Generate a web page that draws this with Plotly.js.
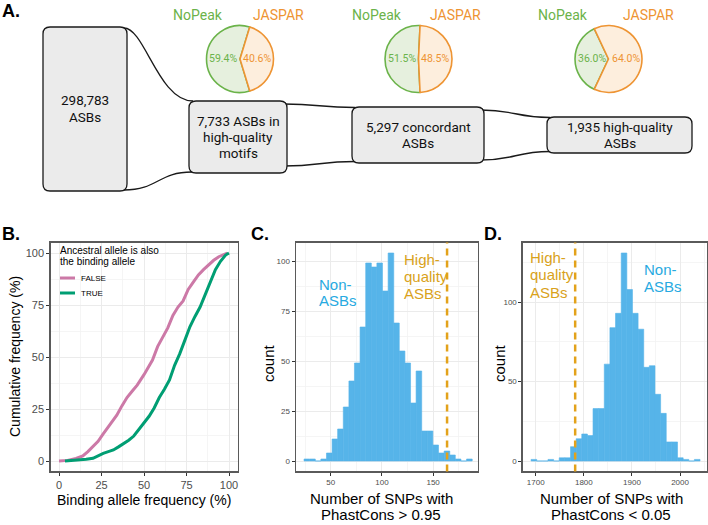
<!DOCTYPE html>
<html>
<head>
<meta charset="utf-8">
<script src="https://cdn.plot.ly/plotly-3.0.1.min.js"></script>
<style>html,body{margin:0;padding:0;background:#fff;}#chart{width:708px;height:525px;}</style>
</head>
<body>
<div id="chart"></div>
<script>
// ---------------- DATA ----------------
const pieLabels = ['NoPeak', 'JASPAR'];
const noPeakPct = [59.4, 51.5, 36.0];
const jasparPct = [40.6, 48.5, 64.0];

const stageLines = [
  ['298,783', 'ASBs'],
  ['7,733 ASBs in', 'high-quality', 'motifs'],
  ['5,297 concordant', 'ASBs'],
  ['1,935 high-quality', 'ASBs']
];

const legendTitle = ['Ancestral allele is also', 'the binding allele'];
const groupNames = ['FALSE', 'TRUE'];

const ecdfFalseX = [0, 5, 10, 14, 17, 20, 23, 26, 30, 34, 37, 40, 43, 46, 50, 53, 55, 58, 61, 64, 67, 70, 73, 76, 79, 82, 85, 88, 91, 94, 97, 99];
const ecdfFalseY = [0, 0.3, 1.2, 2.4, 4.5, 6.9, 9.5, 13, 17.3, 22, 26.5, 30.5, 33.5, 36.5, 41.5, 45.5, 48.5, 55, 59.5, 64, 70, 74, 77, 82.5, 86, 89.5, 92, 94.5, 96.5, 98.2, 99.3, 100];
const ecdfTrueX = [3.5, 8, 12, 16, 20, 23, 26, 29, 32, 35, 38, 41, 44, 47, 50, 53, 56, 59, 62, 65, 68, 71, 74, 77, 80, 83, 86, 89, 92, 95, 98, 100];
const ecdfTrueY = [0, 0.2, 0.5, 0.8, 1.3, 2.5, 3.7, 4.5, 5.3, 6.8, 8.3, 10, 12, 15, 18.5, 21.5, 25.5, 30.5, 34.5, 39, 46, 51.5, 58, 64.5, 69.5, 74, 80, 86, 92, 96, 99, 100];

const highBins = [26.7, 32.2, 37.6, 43.1, 48.6, 54.1, 59.5, 65.0, 70.5, 75.9, 81.4, 86.9, 92.3, 97.8, 103.3, 108.8, 114.2, 119.7, 125.2, 130.6, 136.1, 141.6, 147.0, 152.5, 158.0, 163.5, 168.9, 174.4, 179.9, 185.4];
const highCounts = [1, 1, 0, 1, 4, 11, 16, 27, 40, 49, 67, 99, 97, 99, 85, 104, 69, 55, 49, 29, 45, 15, 15, 8, 4, 5, 3, 1, 0, 1];
const highObserved = 163.6;

const lowBins = [1696.2, 1707.9, 1719.6, 1731.3, 1743.0, 1754.7, 1766.4, 1778.2, 1789.9, 1801.6, 1813.3, 1825.0, 1836.7, 1848.4, 1860.1, 1871.8, 1883.6, 1895.3, 1907.0, 1918.7, 1930.4, 1942.1, 1953.8, 1965.5, 1977.2, 1988.9, 2000.7, 2012.4, 2024.1, 2035.8];
const lowCounts = [1, 0, 0, 1, 0, 2, 2, 9, 14, 17, 16, 33, 33, 61, 84, 93, 131, 108, 93, 83, 59, 60, 42, 30, 12, 12, 2, 1, 0, 1];
const lowObserved = 1782;

// ---------------- GEOMETRY / STYLE ----------------
const W = 708, H = 525;
const px = x => x / W;
const py = y => 1 - y / H;

const PINK = '#CC79A7', GREEN = '#009E73', BAR = '#56B4E9';
const NONASB = '#27AAE1', GOLD = '#D9A21B', GOLDLINE = '#E3A21A';
const NP_LINE = '#6BB34A', NP_FILL = '#E6F0DE', JA_LINE = '#EE9433', JA_FILL = '#FDEEDD';
const SANS = 'Liberation Sans, Arial, sans-serif';
const ROBOTO = 'Roboto, sans-serif';

const boxes = [
  {x0: 43, x1: 127, y0: 27, y1: 191, lines: [100, 117]},
  {x0: 189, x1: 287, y0: 101, y1: 173, lines: [121, 137, 153]},
  {x0: 352, x1: 484, y0: 107, y1: 163, lines: [127, 143]},
  {x0: 547, x1: 692, y0: 117, y1: 153, lines: [127, 143]}
];
const pieCenters = [[240, 59], [418.5, 59], [608.5, 59]];
const pieR = 33.5;

function rr(x0, y0, x1, y1, r) {
  const P = (x, y) => px(x) + ',' + py(y);
  return 'M' + P(x0 + r, y0) + ' L' + P(x1 - r, y0) + ' Q' + P(x1, y0) + ' ' + P(x1, y0 + r) +
    ' L' + P(x1, y1 - r) + ' Q' + P(x1, y1) + ' ' + P(x1 - r, y1) +
    ' L' + P(x0 + r, y1) + ' Q' + P(x0, y1) + ' ' + P(x0, y1 - r) +
    ' L' + P(x0, y0 + r) + ' Q' + P(x0, y0) + ' ' + P(x0 + r, y0) + ' Z';
}
function curve(x0, y0, x1, y1, a, b) {
  const P = (x, y) => px(x) + ',' + py(y);
  const dx = x1 - x0;
  return 'M' + P(x0, y0) + ' C' + P(x0 + a * dx, y0) + ' ' + P(x1 - b * dx, y1) + ' ' + P(x1, y1);
}

const shapes = [];
const conn = [
  [124, 28, 193, 101, 0.3, 0.5],
  [124, 190, 192, 172, 0.5, 0.5],
  [284, 104, 355, 107.5, 0.5, 0.5],
  [284, 166, 355, 161.5, 0.5, 0.5],
  [481, 110, 550, 117.5, 0.5, 0.5],
  [481, 160, 550, 151.5, 0.5, 0.5]
];
conn.forEach(c => shapes.push({type: 'path', xref: 'paper', yref: 'paper', path: curve(...c), line: {color: '#1a1a1a', width: 1.3}}));
boxes.forEach(b => shapes.push({type: 'path', xref: 'paper', yref: 'paper', path: rr(b.x0, b.y0, b.x1, b.y1, 7), fillcolor: '#EBEBEB', line: {color: '#1a1a1a', width: 1.3}}));

// dashed observed lines
shapes.push({type: 'line', xref: 'x2', yref: 'y2 domain', x0: highObserved, x1: highObserved, y0: 0, y1: 1, line: {color: GOLDLINE, width: 2.5, dash: '7px,5px'}});
shapes.push({type: 'line', xref: 'x3', yref: 'y3 domain', x0: lowObserved, x1: lowObserved, y0: 0, y1: 1, line: {color: GOLDLINE, width: 2.5, dash: '7px,5px'}});

// legend keys
shapes.push({type: 'line', xref: 'paper', yref: 'paper', x0: px(60), x1: px(75), y0: py(278), y1: py(278), line: {color: PINK, width: 3}});
shapes.push({type: 'line', xref: 'paper', yref: 'paper', x0: px(60), x1: px(75), y0: py(293), y1: py(293), line: {color: GREEN, width: 3}});

// ---------------- ANNOTATIONS ----------------
const annotations = [];
function ann(text, x, y, o) {
  o = o || {};
  annotations.push(Object.assign({
    text: text, x: px(x), y: py(y), xref: 'paper', yref: 'paper', showarrow: false,
    xanchor: 'center', yanchor: 'middle',
    font: {family: SANS, size: 14, color: '#000'}
  }, o));
}

// panel letters
ann('<b>A.</b>', 0, 11, {xanchor: 'left', font: {family: SANS, size: 18, color: '#000'}});
ann('<b>B.</b>', 0, 234, {xanchor: 'left', font: {family: SANS, size: 18, color: '#000'}});
ann('<b>C.</b>', 249, 234, {xanchor: 'left', font: {family: SANS, size: 18, color: '#000'}});
ann('<b>D.</b>', 482, 234, {xanchor: 'left', font: {family: SANS, size: 18, color: '#000'}});

// panel A: pie labels and percentages
const pieHeaderX = [[197.5, 278], [376.7, 456], [563, 648.5]];
pieCenters.forEach((c, i) => {
  ann(pieLabels[0], pieHeaderX[i][0], 15, {font: {family: ROBOTO, size: 14, color: NP_LINE}});
  ann(pieLabels[1], pieHeaderX[i][1], 15, {font: {family: ROBOTO, size: 14, color: JA_LINE}});
  ann(noPeakPct[i].toFixed(1) + '%', c[0] - 17, c[1] - 1, {font: {family: ROBOTO, size: 10.5, color: NP_LINE}});
  ann(jasparPct[i].toFixed(1) + '%', c[0] + 17, c[1] - 1, {font: {family: ROBOTO, size: 10.5, color: JA_LINE}});
});
// box texts
boxes.forEach((b, i) => {
  stageLines[i].forEach((t, j) => ann(t, (b.x0 + b.x1) / 2, b.lines[j], {font: {family: ROBOTO, size: 13.5, color: '#111'}}));
});

// panel B legend
ann(legendTitle[0], 58, 250, {xanchor: 'left', font: {family: SANS, size: 10, color: '#000'}});
ann(legendTitle[1], 58, 261.5, {xanchor: 'left', font: {family: SANS, size: 10, color: '#000'}});
ann(groupNames[0], 79, 278, {xanchor: 'left', font: {family: SANS, size: 8, color: '#000'}});
ann(groupNames[1], 79, 293, {xanchor: 'left', font: {family: SANS, size: 8, color: '#000'}});

// axis titles
ann('Binding allele frequency (%)', 144, 499.5, {font: {family: SANS, size: 14, color: '#000'}});
ann('Cumulative frequency (%)', 15, 357, {textangle: -90, font: {family: SANS, size: 14, color: '#000'}});
ann('Number of SNPs with', 381, 498, {font: {family: SANS, size: 15, color: '#000'}});
ann('PhastCons &gt; 0.95', 381, 514.5, {font: {family: SANS, size: 15, color: '#000'}});
ann('count', 268, 363, {textangle: -90, font: {family: SANS, size: 15, color: '#000'}});
ann('Number of SNPs with', 611, 498, {font: {family: SANS, size: 15, color: '#000'}});
ann('PhastCons &lt; 0.05', 611, 514.5, {font: {family: SANS, size: 15, color: '#000'}});
ann('count', 499, 363, {textangle: -90, font: {family: SANS, size: 15, color: '#000'}});

// histogram labels
const lab = (t, x, y, col) => ann(t, x, y, {xanchor: 'left', font: {family: SANS, size: 15, color: col}});
lab('Non-', 316.5, 284, NONASB); lab('ASBs', 316.5, 300.5, NONASB);
lab('High-', 401.5, 259, GOLD); lab('quality', 401.5, 276, GOLD); lab('ASBs', 401.5, 293, GOLD);
lab('High-', 528, 257, GOLD); lab('quality', 528, 274.5, GOLD); lab('ASBs', 528, 292, GOLD);
lab('Non-', 641.5, 269, NONASB); lab('ASBs', 641.5, 286, NONASB);

// ---------------- TRACES ----------------
const traces = [];
pieCenters.forEach((c, i) => {
  traces.push({
    type: 'pie', labels: [pieLabels[0], pieLabels[1]], values: [noPeakPct[i], jasparPct[i]],
    sort: false, direction: 'clockwise', rotation: 90 + jasparPct[i] * 1.8,
    textinfo: 'none', hoverinfo: 'skip', showlegend: false,
    marker: {colors: [NP_FILL, JA_FILL], line: {color: [NP_LINE, JA_LINE], width: 1.6}},
    domain: {x: [px(c[0] - pieR), px(c[0] + pieR)], y: [py(c[1] + pieR), py(c[1] - pieR)]}
  });
});

traces.push({type: 'scatter', mode: 'lines', x: ecdfFalseX, y: ecdfFalseY, xaxis: 'x', yaxis: 'y', line: {color: PINK, width: 3}, name: groupNames[0], showlegend: false});
traces.push({type: 'scatter', mode: 'lines', x: ecdfTrueX, y: ecdfTrueY, xaxis: 'x', yaxis: 'y', line: {color: GREEN, width: 3}, name: groupNames[1], showlegend: false});

traces.push({type: 'bar', x: highBins, y: highCounts, width: 5.47, xaxis: 'x2', yaxis: 'y2', marker: {color: BAR, line: {width: 0.6, color: BAR}}, showlegend: false});
traces.push({type: 'bar', x: lowBins, y: lowCounts, width: 11.71, xaxis: 'x3', yaxis: 'y3', marker: {color: BAR, line: {width: 0.6, color: BAR}}, showlegend: false});

// ---------------- AXES ----------------
function ax(domain, range, dtick, minor, fsize, anchor) {
  return {
    domain: domain, range: range, dtick: dtick, tick0: 0, anchor: anchor,
    showgrid: true, gridcolor: '#EBEBEB', gridwidth: 1,
    minor: {dtick: minor, showgrid: true, gridcolor: '#F2F2F2', gridwidth: 0.8},
    zeroline: false, showline: true, mirror: true, linecolor: '#5A5A5A', linewidth: 1.2,
    ticks: 'outside', ticklen: 3, tickcolor: '#333', tickwidth: 1,
    tickfont: {family: SANS, size: fsize, color: '#4D4D4D'}, fixedrange: true
  };
}
const yDom = [py(471.4), py(242.6)];
const layout = {
  width: W, height: H, margin: {l: 0, r: 0, t: 0, b: 0},
  paper_bgcolor: '#fff', plot_bgcolor: '#fff', showlegend: false, bargap: 0,
  xaxis: ax([px(50.5), px(237.5)], [-5, 105], 25, 12.5, 11, 'y'),
  yaxis: ax(yDom, [-5, 105], 25, 12.5, 11, 'x'),
  xaxis2: ax([px(295.7), px(478.2)], [15.8, 194], 50, 25, 8, 'y2'),
  yaxis2: ax(yDom, [-5.2, 109.2], 25, 12.5, 8, 'x2'),
  xaxis3: ax([px(522.6), px(707)], [1672.7, 2056.1], 100, 50, 8, 'y3'),
  yaxis3: ax(yDom, [-6.55, 137.55], 50, 25, 8, 'x3'),
  shapes: shapes, annotations: annotations
};

Plotly.newPlot('chart', traces, layout, {staticPlot: true, displayModeBar: false});
</script>
</body>
</html>
